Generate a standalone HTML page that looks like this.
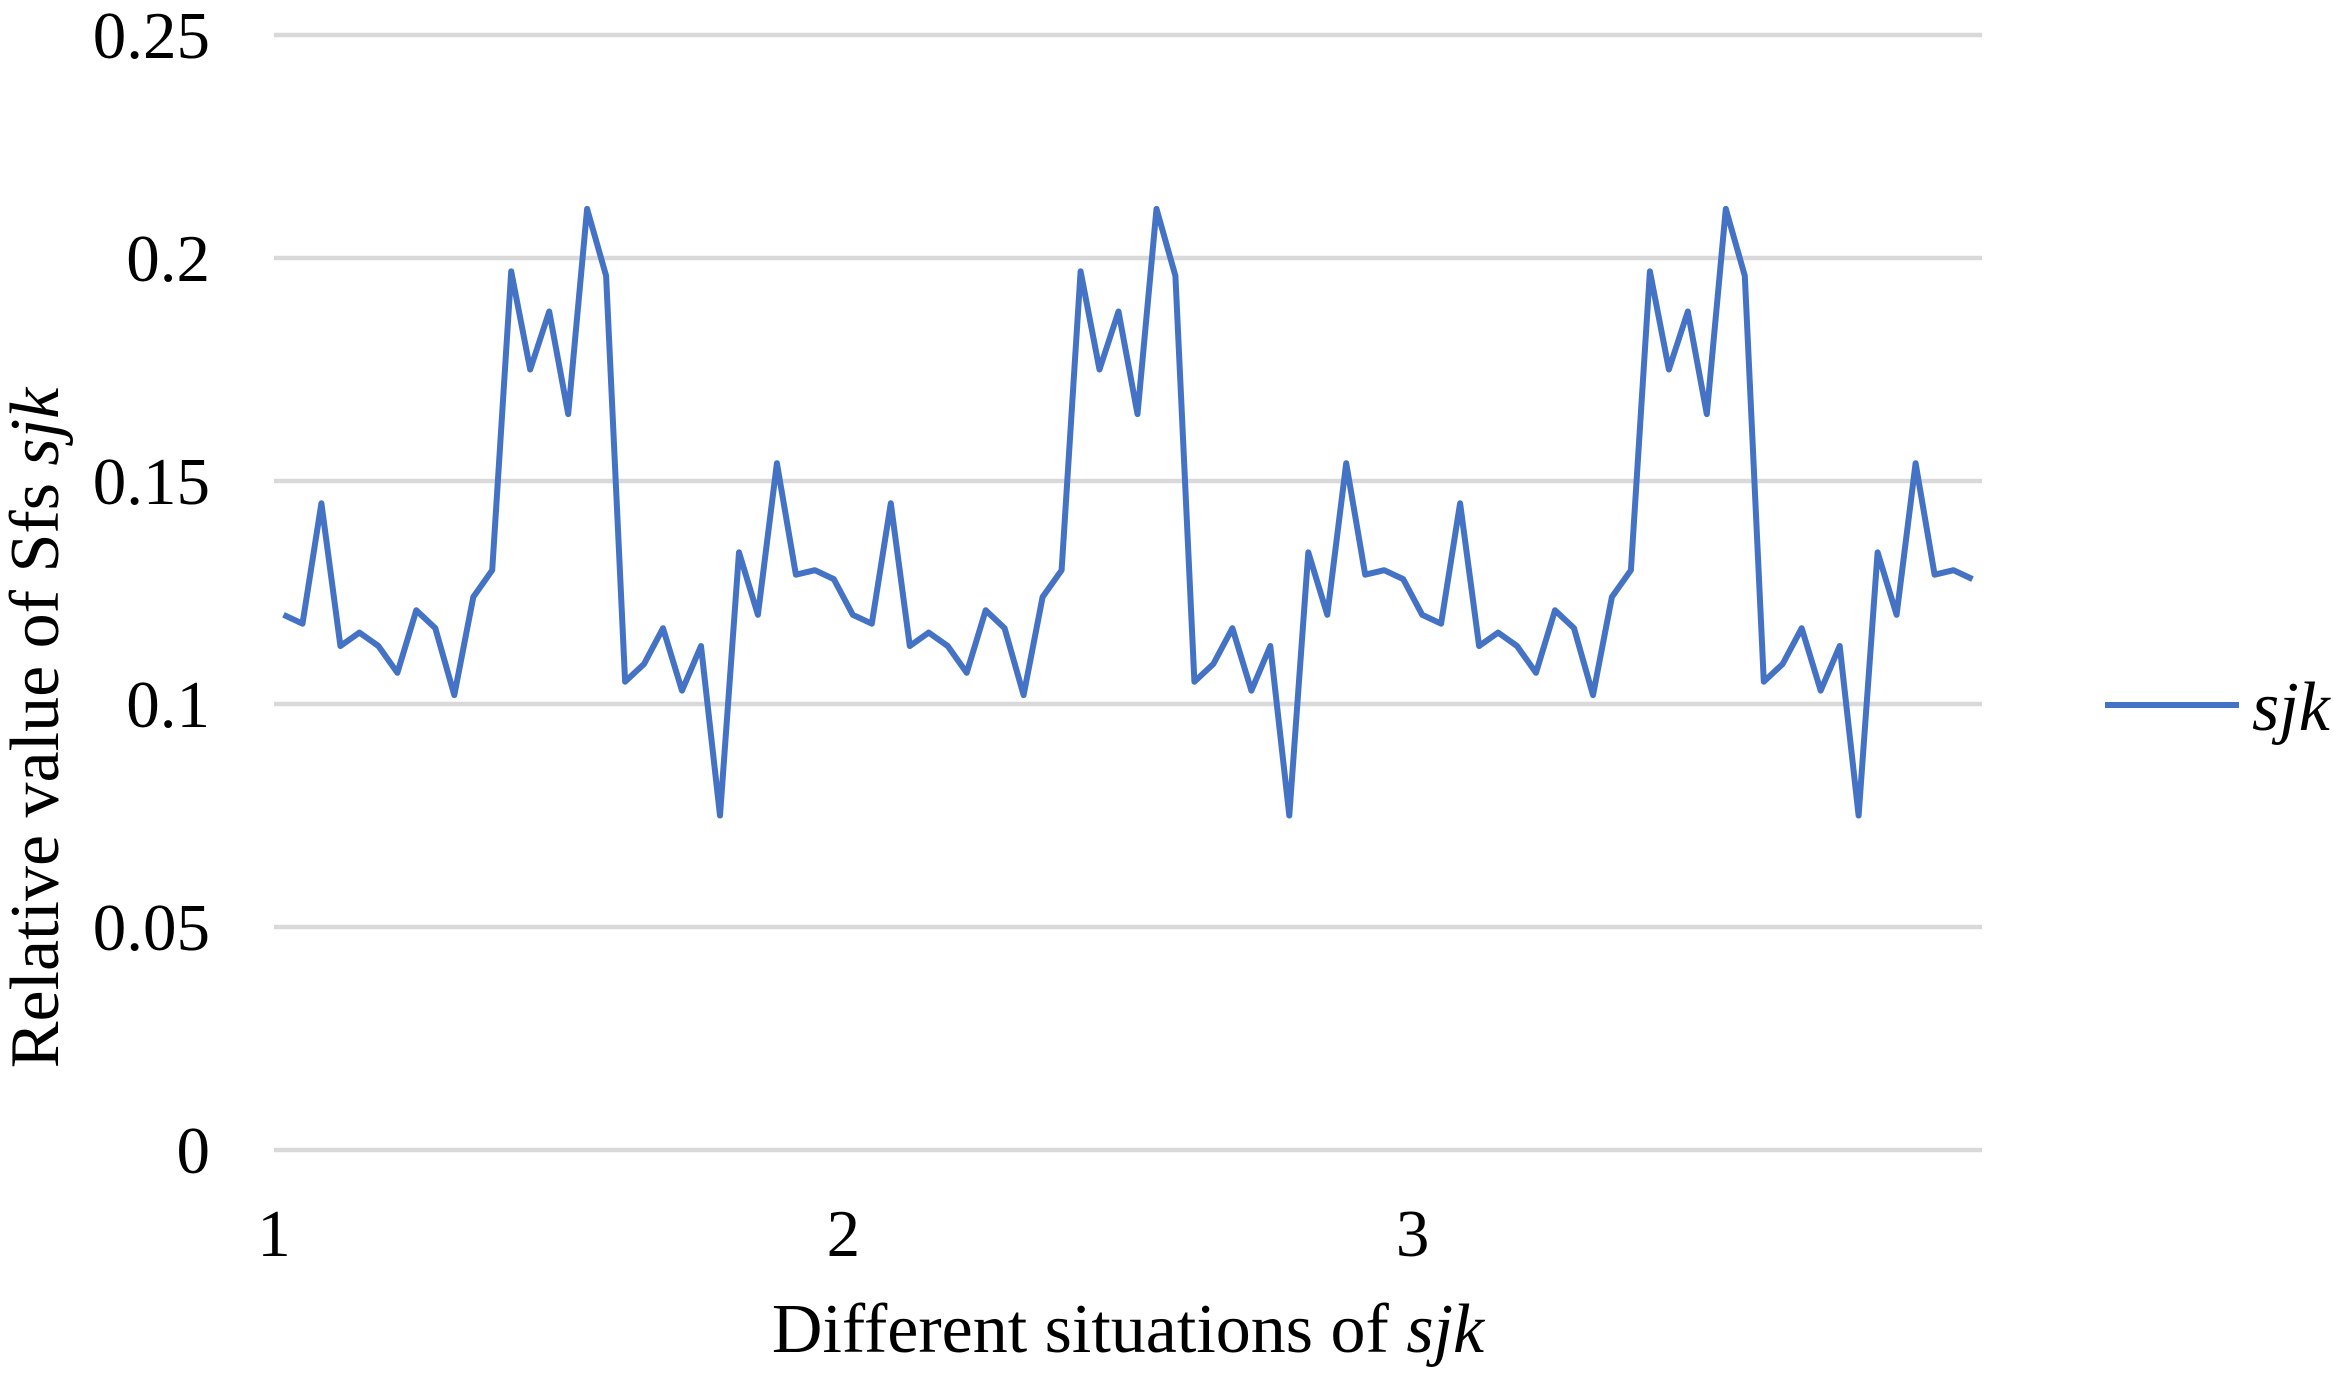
<!DOCTYPE html>
<html><head><meta charset="utf-8"><style>
html,body{margin:0;padding:0;background:#fff;}
svg{display:block;font-family:"Liberation Serif",serif;}
</style></head><body>
<svg id="chart" width="2333" height="1376" viewBox="0 0 2333 1376" xmlns="http://www.w3.org/2000/svg">
<g id="grid"></g>
<g id="yticks"></g>
<g id="xticks"></g>
<g id="series"></g>
<text x="0" y="0" font-size="70" text-anchor="middle" transform="translate(58,728) rotate(-90)">Relative value of Sfs <tspan font-style="italic">sjk</tspan></text>
<text x="1128" y="1352" font-size="70" text-anchor="middle">Different situations of <tspan font-style="italic">sjk</tspan></text>
<g>
<line x1="2105" y1="705" x2="2239" y2="705" stroke="#4472C4" stroke-width="6"/>
<text x="2252" y="730" font-size="70" font-style="italic">sjk</text>
</g>
</svg>
<script>
const yTicks=[0,0.05,0.1,0.15,0.2,0.25];
const yTickLabels=["0","0.05","0.1","0.15","0.2","0.25"];
const xTickLabels=["1","2","3"];
const xTickIndex=[0,30,60];
const values=[
0.120,0.118,0.145,0.113,0.116,0.113,0.107,0.121,0.117,0.102,0.124,0.130,0.197,0.175,0.188,0.165,0.211,0.196,0.105,0.109,0.117,0.103,0.113,0.075,0.134,0.120,0.154,0.129,0.130,0.128,
0.120,0.118,0.145,0.113,0.116,0.113,0.107,0.121,0.117,0.102,0.124,0.130,0.197,0.175,0.188,0.165,0.211,0.196,0.105,0.109,0.117,0.103,0.113,0.075,0.134,0.120,0.154,0.129,0.130,0.128,
0.120,0.118,0.145,0.113,0.116,0.113,0.107,0.121,0.117,0.102,0.124,0.130,0.197,0.175,0.188,0.165,0.211,0.196,0.105,0.109,0.117,0.103,0.113,0.075,0.134,0.120,0.154,0.129,0.130,0.128];
const NS="http://www.w3.org/2000/svg";
const L=274,R=1982,T=35,B=1150,ymax=0.25;
const n=values.length, w=(R-L)/n;
function xPos(i){return L+(i+0.5)*w;}
function xEdge(i){return L+i*w;}
function yPos(v){return B-(v/ymax)*(B-T);}
const grid=document.getElementById('grid'),yt=document.getElementById('yticks'),xt=document.getElementById('xticks'),ser=document.getElementById('series');
yTicks.forEach((v,k)=>{
 const ln=document.createElementNS(NS,'line');
 
 
 ln.setAttribute('x1',L);ln.setAttribute('x2',R);ln.setAttribute('y1',yPos(v));ln.setAttribute('y2',yPos(v));
 ln.setAttribute('stroke','#d9d9d9');ln.setAttribute('stroke-width','4.5');
 grid.appendChild(ln);
 const t=document.createElementNS(NS,'text');
 
 
 t.setAttribute('x',210);t.setAttribute('y',yPos(v)+23);t.setAttribute('font-size','67');t.setAttribute('text-anchor','end');
 t.textContent=yTickLabels[k];yt.appendChild(t);
});
xTickIndex.forEach((idx,k)=>{
 const t=document.createElementNS(NS,'text');
 
 
 t.setAttribute('x',xEdge(idx));t.setAttribute('y',1256);t.setAttribute('font-size','67');t.setAttribute('text-anchor','middle');
 t.textContent=xTickLabels[k];xt.appendChild(t);
});
const p=document.createElementNS(NS,'polyline');


p.setAttribute('points',values.map((v,i)=>xPos(i).toFixed(1)+','+yPos(v).toFixed(1)).join(' '));
p.setAttribute('fill','none');p.setAttribute('stroke','#4472C4');p.setAttribute('stroke-width','6');p.setAttribute('stroke-linejoin','round');
ser.appendChild(p);
</script>
</body></html>
